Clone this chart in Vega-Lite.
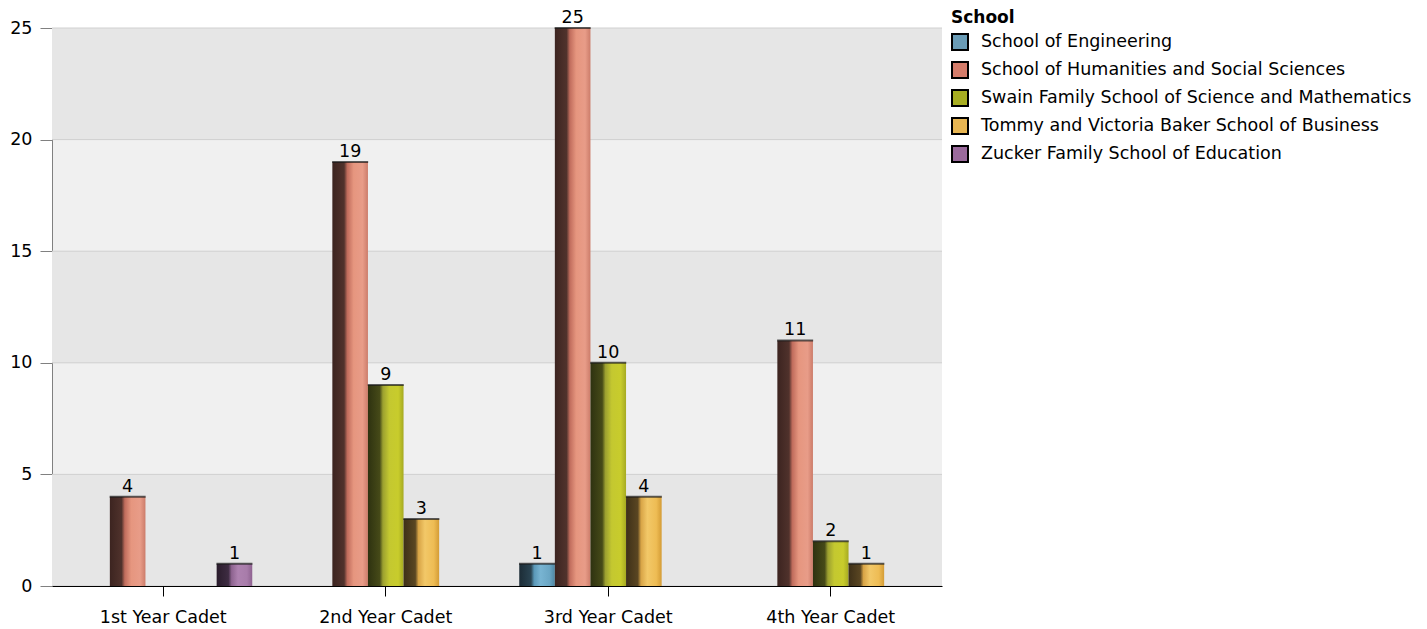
{
  "$schema": "https://vega.github.io/schema/vega-lite/v6.json",
  "width": 890,
  "height": 558,
  "autosize": {"type": "none"},
  "padding": {"left": 52, "top": 28, "right": 485, "bottom": 43},
  "background": "white",
  "config": {
    "font": "DejaVu Sans",
    "view": {"fill": "#f0f0f0", "stroke": null},
    "axis": {"labelFontSize": 17.5, "labelColor": "#000", "titleFontSize": 17.5}
  },
  "datasets": {
    "bands": [
      {"lo": 0, "hi": 5},
      {"lo": 10, "hi": 15},
      {"lo": 20, "hi": 25}
    ],
    "counts": [
      {"Year": "1st Year Cadet", "School": "School of Humanities and Social Sciences", "Count": 4},
      {"Year": "1st Year Cadet", "School": "Zucker Family School of Education", "Count": 1},
      {"Year": "2nd Year Cadet", "School": "School of Humanities and Social Sciences", "Count": 19},
      {"Year": "2nd Year Cadet", "School": "Swain Family School of Science and Mathematics", "Count": 9},
      {"Year": "2nd Year Cadet", "School": "Tommy and Victoria Baker School of Business", "Count": 3},
      {"Year": "3rd Year Cadet", "School": "School of Engineering", "Count": 1},
      {"Year": "3rd Year Cadet", "School": "School of Humanities and Social Sciences", "Count": 25},
      {"Year": "3rd Year Cadet", "School": "Swain Family School of Science and Mathematics", "Count": 10},
      {"Year": "3rd Year Cadet", "School": "Tommy and Victoria Baker School of Business", "Count": 4},
      {"Year": "4th Year Cadet", "School": "School of Humanities and Social Sciences", "Count": 11},
      {"Year": "4th Year Cadet", "School": "Swain Family School of Science and Mathematics", "Count": 2},
      {"Year": "4th Year Cadet", "School": "Tommy and Victoria Baker School of Business", "Count": 1}
    ]
  },
  "layer": [
    {
      "data": {"name": "bands"},
      "mark": {"type": "rect", "color": "#e6e6e6"},
      "encoding": {
        "y": {"field": "lo", "type": "quantitative", "scale": {"domain": [0, 25], "nice": false}, "axis": {"values": [0, 5, 10, 15, 20, 25], "title": null, "grid": false, "domainColor": "#808080", "tickColor": "#808080", "tickSize": 12, "labelPadding": 8}},
        "y2": {"field": "hi"}
      }
    },
    {
      "data": {"name": "bands"},
      "mark": {"type": "rule", "color": "#d0d0d0", "strokeWidth": 1},
      "encoding": {"y": {"field": "hi", "type": "quantitative"}}
    },
    {
      "data": {"name": "bands"},
      "mark": {"type": "rule", "color": "#d0d0d0", "strokeWidth": 1},
      "encoding": {"y": {"field": "lo", "type": "quantitative"}}
    },
    {
      "data": {"name": "counts"},
      "mark": {"type": "bar"},
      "encoding": {
        "x": {"field": "Year", "type": "nominal", "scale": {"paddingInner": 0.2, "paddingOuter": 0.1}, "axis": {"title": null, "labelAngle": 0, "domainColor": "#000", "tickColor": "#000", "tickSize": 10, "labelPadding": 12, "zindex": 1}},
        "xOffset": {"field": "School", "type": "nominal", "scale": {"domain": ["School of Engineering", "School of Humanities and Social Sciences", "Swain Family School of Science and Mathematics", "Tommy and Victoria Baker School of Business", "Zucker Family School of Education"], "paddingInner": 0, "paddingOuter": 0}},
        "y": {"field": "Count", "type": "quantitative"},
        "color": {
          "condition": [
            {"test": "datum.School === 'School of Engineering'", "value": {"gradient": "linear", "x1": 0, "y1": 0, "x2": 1, "y2": 0, "stops": [{"offset": 0, "color": "#1c2c36"}, {"offset": 0.33, "color": "#2a4452"}, {"offset": 0.42, "color": "#5a98b8"}, {"offset": 0.6, "color": "#78b4d2"}, {"offset": 0.85, "color": "#6aa6c4"}, {"offset": 1, "color": "#4e86a2"}]}},
            {"test": "datum.School === 'School of Humanities and Social Sciences'", "value": {"gradient": "linear", "x1": 0, "y1": 0, "x2": 1, "y2": 0, "stops": [{"offset": 0, "color": "#3c2420"}, {"offset": 0.33, "color": "#50322c"}, {"offset": 0.42, "color": "#c06c5c"}, {"offset": 0.6, "color": "#e6967f"}, {"offset": 0.85, "color": "#e89c88"}, {"offset": 1, "color": "#cc7c6a"}]}},
            {"test": "datum.School === 'Swain Family School of Science and Mathematics'", "value": {"gradient": "linear", "x1": 0, "y1": 0, "x2": 1, "y2": 0, "stops": [{"offset": 0, "color": "#2e3210"}, {"offset": 0.33, "color": "#464a18"}, {"offset": 0.42, "color": "#9ca030"}, {"offset": 0.6, "color": "#c4c830"}, {"offset": 0.85, "color": "#c8cc2c"}, {"offset": 1, "color": "#a6aa22"}]}},
            {"test": "datum.School === 'Tommy and Victoria Baker School of Business'", "value": {"gradient": "linear", "x1": 0, "y1": 0, "x2": 1, "y2": 0, "stops": [{"offset": 0, "color": "#3e3018"}, {"offset": 0.33, "color": "#5a4622"}, {"offset": 0.42, "color": "#d8a446"}, {"offset": 0.6, "color": "#f2c868"}, {"offset": 0.85, "color": "#eebc54"}, {"offset": 1, "color": "#d49c36"}]}},
            {"test": "datum.School === 'Zucker Family School of Education'", "value": {"gradient": "linear", "x1": 0, "y1": 0, "x2": 1, "y2": 0, "stops": [{"offset": 0, "color": "#2a1c2c"}, {"offset": 0.33, "color": "#3e2c42"}, {"offset": 0.42, "color": "#8e6490"}, {"offset": 0.6, "color": "#ae82b0"}, {"offset": 0.85, "color": "#a87caa"}, {"offset": 1, "color": "#8e6290"}]}}
          ],
          "field": "School",
          "type": "nominal",
          "scale": {"domain": ["School of Engineering", "School of Humanities and Social Sciences", "Swain Family School of Science and Mathematics", "Tommy and Victoria Baker School of Business", "Zucker Family School of Education"], "range": ["#6a9cb6", "#d47c6a", "#a8ae22", "#e8b652", "#9a6a9c"]},
          "legend": {
            "title": "School",
            "orient": "none",
            "legendX": 899,
            "legendY": -18,
            "titleFontSize": 17,
            "titleFontWeight": "bold",
            "titleColor": "#000",
            "titlePadding": 6,
            "labelFontSize": 17.5,
            "labelColor": "#000",
            "labelLimit": 600,
            "labelOffset": 12,
            "symbolType": "square",
            "symbolSize": 256,
            "symbolStrokeColor": "#000",
            "symbolStrokeWidth": 2,
            "symbolOpacity": 1,
            "rowPadding": 4
          }
        }
      }
    },
    {
      "data": {"name": "counts"},
      "mark": {"type": "tick", "orient": "horizontal", "thickness": 2, "size": 36, "color": "#1a1a1a"},
      "encoding": {
        "x": {"field": "Year", "type": "nominal"},
        "xOffset": {"field": "School", "type": "nominal"},
        "y": {"field": "Count", "type": "quantitative"}
      }
    },
    {
      "data": {"name": "counts"},
      "mark": {"type": "text", "baseline": "bottom", "dy": -1, "fontSize": 17.5, "color": "#000"},
      "encoding": {
        "x": {"field": "Year", "type": "nominal"},
        "xOffset": {"field": "School", "type": "nominal"},
        "y": {"field": "Count", "type": "quantitative"},
        "text": {"field": "Count", "type": "quantitative"}
      }
    }
  ]
}
